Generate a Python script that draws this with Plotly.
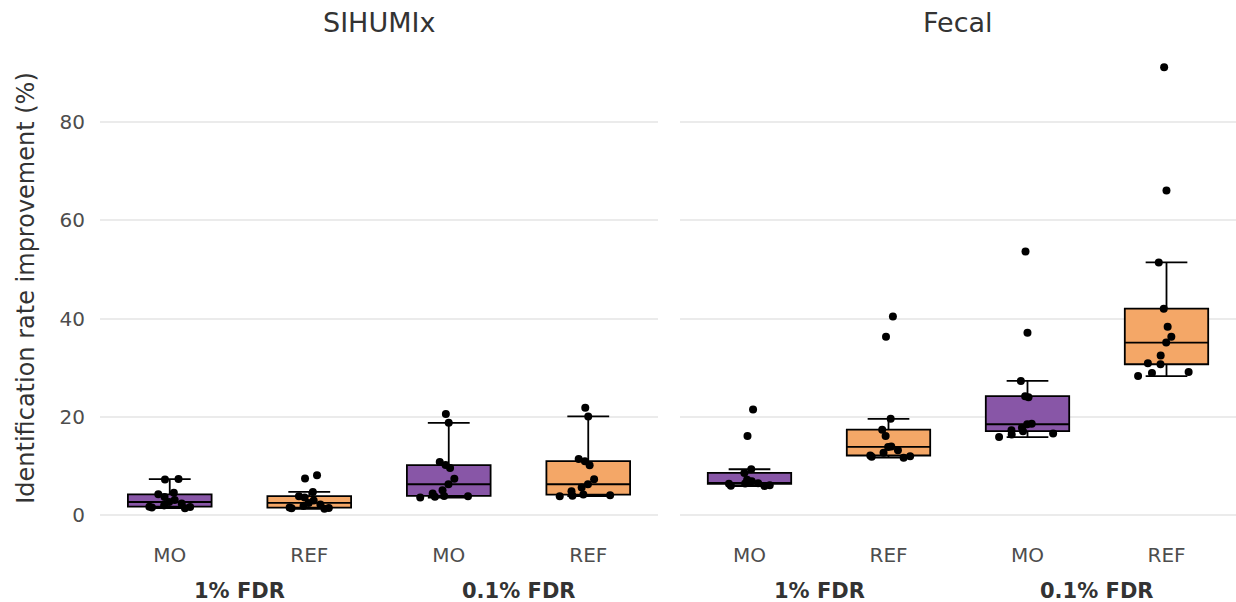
import plotly.graph_objects as go

# ---------------- data ----------------
panels = ["SIHUMIx", "Fecal"]
fdr_levels = ["1% FDR", "0.1% FDR"]
methods = ["MO", "REF"]
method_colors = ["#8856A7", "#F4A767"]
y_ticks = [0, 20, 40, 60, 80]
y_title = "Identification rate improvement (%)"

# SIHUMIx
sihumix_mo_fdr1 = [1.45, 1.6, 1.7, 1.75, 2.0, 2.4, 2.7, 3.1, 3.7, 4.25, 4.6, 7.25, 7.35]
sihumix_ref_fdr1 = [1.3, 1.4, 1.5, 1.56, 1.9, 2.2, 2.5, 3.0, 3.6, 3.87, 4.75, 7.46, 8.14]
sihumix_mo_fdr01 = [3.6, 3.75, 3.85, 3.93, 4.4, 5.1, 6.3, 7.4, 9.6, 10.2, 10.85, 18.8, 20.6]
sihumix_ref_fdr01 = [3.87, 3.97, 4.06, 4.2, 4.89, 5.63, 6.3, 7.33, 10.18, 11.0, 11.46, 20.1, 21.85]

# Fecal
fecal_mo_fdr1 = [5.95, 6.0, 6.1, 6.4, 6.45, 6.5, 6.6, 6.9, 7.2, 8.6, 9.35, 16.1, 21.5]
fecal_ref_fdr1 = [11.7, 11.9, 12.0, 12.15, 12.7, 13.2, 13.9, 14.0, 16.1, 17.4, 19.6, 36.3, 40.4]
fecal_mo_fdr01 = [15.9, 16.4, 16.6, 17.1, 17.3, 17.8, 18.5, 18.6, 24.0, 24.2, 27.3, 37.1, 53.6]
fecal_ref_fdr01 = [28.3, 28.9, 29.1, 30.7, 30.9, 32.5, 35.1, 36.3, 38.3, 42.0, 51.4, 66.0, 91.1]

data = {
    ("SIHUMIx", "MO"): [sihumix_mo_fdr1, sihumix_mo_fdr01],
    ("SIHUMIx", "REF"): [sihumix_ref_fdr1, sihumix_ref_fdr01],
    ("Fecal", "MO"): [fecal_mo_fdr1, fecal_mo_fdr01],
    ("Fecal", "REF"): [fecal_ref_fdr1, fecal_ref_fdr01],
}

# ---------------- figure ----------------
W, H = 1236, 602
FONT = "DejaVu Sans"
fig = go.Figure()

# category keys (FDR level x method) in display order
cat_keys = [f"{fdr}|{m}" for fdr in fdr_levels for m in methods]
cat_text = [m for fdr in fdr_levels for m in methods]

for p_i, panel in enumerate(panels):
    xref = "x" if p_i == 0 else "x2"
    for m_i, method in enumerate(methods):
        xs, ys = [], []
        for f_i, fdr in enumerate(fdr_levels):
            vals = data[(panel, method)][f_i]
            xs += [f"{fdr}|{method}"] * len(vals)
            ys += vals
        fig.add_trace(go.Box(
            x=xs, y=ys,
            xaxis=xref, yaxis="y",
            name=f"{panel} {method}",
            fillcolor=method_colors[m_i],
            line=dict(color="black", width=1.8),
            width=0.6, whiskerwidth=0.5,
            boxpoints="all", pointpos=0, jitter=0.7,
            marker=dict(color="black", size=8, line=dict(width=0)),
            quartilemethod="inclusive",
            showlegend=False, hoverinfo="y",
        ))

axis_common = dict(
    type="category", categoryorder="array", categoryarray=cat_keys,
    tickvals=cat_keys, ticktext=cat_text,
    range=[-0.5, len(cat_keys) - 0.5],
    showgrid=False, zeroline=False, showline=False, ticks="",
    ticklabelstandoff=10,
    tickfont=dict(family=FONT, size=20, color="#4D4D4D"),
)
fig.update_layout(
    width=W, height=H,
    margin=dict(l=0, r=0, t=45, b=71),
    paper_bgcolor="white", plot_bgcolor="white",
    boxmode="overlay",
    xaxis=dict(domain=[100 / W, 658 / W], anchor="y", **axis_common),
    xaxis2=dict(domain=[680 / W, 1.0], anchor="y", **axis_common),
    yaxis=dict(
        range=[-3.2, 95.6], tickvals=y_ticks, showgrid=True,
        gridcolor="#EBEBEB", gridwidth=1.5, zeroline=False, showline=False,
        ticks="", ticklabelstandoff=14,
        tickfont=dict(family=FONT, size=20, color="#4D4D4D"),
        title=dict(text=y_title, font=dict(family=FONT, size=24, color="#333333"), standoff=18),
    ),
    font=dict(family=FONT),
)

# panel (facet) titles
centers = [(100 + 658) / 2 / W, (680 + W) / 2 / W]
for c, panel in zip(centers, panels):
    fig.add_annotation(
        x=c, y=1, xref="paper", yref="paper", xanchor="center", yanchor="bottom",
        yshift=5, text=panel, showarrow=False,
        font=dict(family=FONT, size=27, color="#333333"),
    )

# FDR group labels under each pair of categories
for xref in ["x", "x2"]:
    for f_i, fdr in enumerate(fdr_levels):
        fig.add_annotation(
            x=f_i * len(methods) + (len(methods) - 1) / 2, y=0,
            xref=xref, yref="paper", xanchor="center", yanchor="middle",
            yshift=-60, text=f"<b>{fdr}</b>", showarrow=False,
            font=dict(family=FONT, size=21, color="#333333"),
        )

fig.write_html("out.html")
